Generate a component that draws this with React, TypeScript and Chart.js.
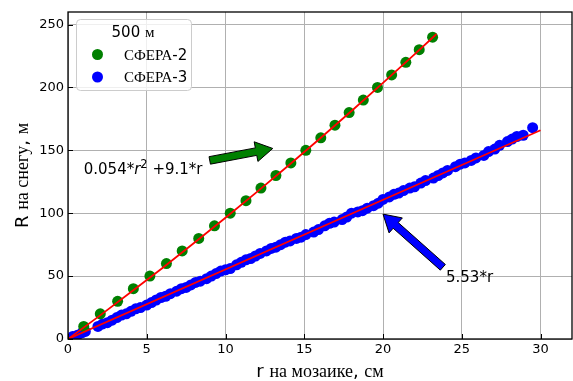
import React, { useEffect, useRef } from "react";
import { Chart, registerables } from "chart.js";

Chart.register(...registerables);

// ---------- data ----------
const sfera2X = [1.0, 2.05, 3.15, 4.15, 5.2, 6.25, 7.25, 8.3, 9.3, 10.3, 11.3, 12.25, 13.2, 14.15, 15.1, 16.05, 16.95, 17.85, 18.75, 19.65, 20.55, 21.45, 22.3, 23.15];
const sfera2Y = [10, 20, 30, 40, 50, 60, 70, 80, 90, 100, 110, 120, 130, 140, 150, 160, 170, 180, 190, 200, 210, 220, 230, 240];

const sfera3X = [0.3, 0.6, 0.9, 1.1, 1.9, 2.2, 2.5, 2.8, 3.1, 3.4, 3.7, 4.0, 4.3, 4.6, 5.0, 5.3, 5.6, 5.9, 6.2, 6.5, 6.9, 7.2, 7.5, 7.8, 8.1, 8.4, 8.8, 9.1, 9.4, 9.7, 10.0, 10.3, 10.7, 11.0, 11.3, 11.6, 11.9, 12.2, 12.6, 12.9, 13.2, 13.5, 13.8, 14.1, 14.5, 14.8, 15.1, 15.6, 15.9, 16.3, 16.6, 16.9, 17.4, 17.7, 18.0, 18.4, 18.7, 19.0, 19.4, 19.7, 20.0, 20.4, 20.7, 21.0, 21.3, 21.7, 22.0, 22.4, 22.7, 23.2, 23.5, 23.8, 24.1, 24.6, 24.9, 25.2, 25.6, 25.9, 26.4, 26.7, 27.1, 27.4, 27.9, 28.2, 28.5, 28.9, 29.5];
const sfera3Y = [2, 3, 5, 6, 10, 12, 13, 15, 17, 19, 20, 22, 24, 25, 27, 29, 31, 33, 34, 36, 38, 40, 41, 43, 45, 46, 48, 50, 52, 54, 55, 56, 59, 61, 63, 64, 66, 68, 70, 72, 73, 75, 77, 78, 80, 81, 83, 85, 87, 90, 92, 93, 95, 97, 100, 101, 102, 104, 106, 108, 111, 113, 115, 116, 118, 120, 121, 124, 126, 128, 130, 132, 134, 137, 139, 140, 142, 144, 146, 149, 151, 154, 157, 159, 161, 162, 168];

const fitQuadX = [0, 2, 4, 6, 8, 10, 12, 14, 16, 18, 20, 22, 23.4];
const fitQuadY = [0, 18.4, 37.3, 56.5, 76.3, 96.4, 117.0, 138.0, 159.4, 181.3, 203.6, 226.3, 242.5];
const fitLinX = [0, 30];
const fitLinY = [0, 166];

const xTicks = [0, 5, 10, 15, 20, 25, 30];
const yTicks = [0, 50, 100, 150, 200, 250];

const legendTitle = "500 м";
const seriesNames = ["СФЕРА-2", "СФЕРА-3"];
const seriesColors = ["#008000", "#0000ff"];
const xTitle = "r на мозаике, см";
const yTitle = "R на снегу, м";

// annotations in data units
const quadLabelPos = [1.0, 131];
const quadArrow = { from: [9.0, 142], to: [13.0, 151.5], color: "#008000" };
const linLabel = "5.53*r";
const linLabelPos = [24.0, 45.5];
const linArrow = { from: [23.8, 57], to: [20.0, 99.3], color: "#0000ff" };

const SANS = '"DejaVu Sans"';
const SERIF = '"Liberation Serif"';

type Run = { t: string; font: string; dy?: number };

function splitRuns(text: string, size: number): Run[] {
  const runs: Run[] = [];
  const isCyr = (c: string) => /[\u0400-\u04FF]/.test(c);
  let cur = "";
  let curCyr: boolean | null = null;
  for (const c of text) {
    const cy = c === " " && curCyr !== null ? curCyr : isCyr(c);
    if (curCyr === null || cy === curCyr) {
      cur += c;
      curCyr = cy;
    } else {
      runs.push({ t: cur, font: `${size}px ${curCyr ? SERIF : SANS}` });
      cur = c;
      curCyr = cy;
    }
  }
  if (cur) runs.push({ t: cur, font: `${size}px ${curCyr ? SERIF : SANS}` });
  return runs;
}

function runsWidth(ctx: CanvasRenderingContext2D, runs: Run[]) {
  let w = 0;
  for (const r of runs) {
    ctx.font = r.font;
    w += ctx.measureText(r.t).width;
  }
  return w;
}

function drawRuns(ctx: CanvasRenderingContext2D, runs: Run[], x: number, y: number, align: "left" | "center" = "left") {
  const w = runsWidth(ctx, runs);
  let cx = align === "center" ? x - w / 2 : x;
  ctx.textAlign = "left";
  ctx.textBaseline = "alphabetic";
  for (const r of runs) {
    ctx.font = r.font;
    ctx.fillText(r.t, cx, y + (r.dy || 0));
    cx += ctx.measureText(r.t).width;
  }
}

function drawArrow(ctx: CanvasRenderingContext2D, x1: number, y1: number, x2: number, y2: number, fill: string) {
  const dx = x2 - x1, dy = y2 - y1;
  const L = Math.hypot(dx, dy);
  const ux = dx / L, uy = dy / L;
  const nx = -uy, ny = ux;
  const sw = 3.8, hw = 10, hl = 17;
  const bx = x2 - ux * hl, by = y2 - uy * hl;
  ctx.beginPath();
  ctx.moveTo(x1 + nx * sw, y1 + ny * sw);
  ctx.lineTo(bx + nx * sw, by + ny * sw);
  ctx.lineTo(bx + nx * hw, by + ny * hw);
  ctx.lineTo(x2, y2);
  ctx.lineTo(bx - nx * hw, by - ny * hw);
  ctx.lineTo(bx - nx * sw, by - ny * sw);
  ctx.lineTo(x1 - nx * sw, y1 - ny * sw);
  ctx.closePath();
  ctx.fillStyle = fill;
  ctx.fill();
  ctx.strokeStyle = "#000";
  ctx.lineWidth = 1;
  ctx.stroke();
}

const overlayPlugin = {
  id: "overlay",
  afterDatasetsDraw(chart: any) {
    const ctx: CanvasRenderingContext2D = chart.ctx;
    const xs = chart.scales.x, ys = chart.scales.y;
    const ca = chart.chartArea;
    ctx.save();
    ctx.fillStyle = "#000";

    // annotations
    const a1 = quadArrow;
    drawArrow(ctx, xs.getPixelForValue(a1.from[0]), ys.getPixelForValue(a1.from[1]), xs.getPixelForValue(a1.to[0]), ys.getPixelForValue(a1.to[1]), a1.color);
    const a2 = linArrow;
    drawArrow(ctx, xs.getPixelForValue(a2.from[0]), ys.getPixelForValue(a2.from[1]), xs.getPixelForValue(a2.to[0]), ys.getPixelForValue(a2.to[1]), a2.color);

    ctx.fillStyle = "#000";
    const qRuns: Run[] = [
      { t: "0.054*", font: `15px ${SANS}` },
      { t: "r", font: `italic 15px ${SANS}` },
      { t: "2", font: `11.5px ${SANS}`, dy: -6 },
      { t: " +9.1*r", font: `15px ${SANS}` },
    ];
    drawRuns(ctx, qRuns, xs.getPixelForValue(quadLabelPos[0]), ys.getPixelForValue(quadLabelPos[1]));
    drawRuns(ctx, [{ t: linLabel, font: `15px ${SANS}` }], xs.getPixelForValue(linLabelPos[0]), ys.getPixelForValue(linLabelPos[1]));

    // legend
    const lx = ca.left + 8.5, ly = ca.top + 7.5, lw = 115, lh = 71;
    ctx.beginPath();
    (ctx as any).roundRect(lx, ly, lw, lh, 4);
    ctx.fillStyle = "rgba(255,255,255,0.8)";
    ctx.fill();
    ctx.strokeStyle = "#cccccc";
    ctx.lineWidth = 1;
    ctx.stroke();
    ctx.fillStyle = "#000";
    drawRuns(ctx, splitRuns(legendTitle, 15), lx + lw / 2 - 1, ly + 17.5, "center");
    for (let i = 0; i < seriesNames.length; i++) {
      const cy = ly + 35 + i * 22.5;
      ctx.beginPath();
      ctx.arc(lx + 21, cy, 5.5, 0, Math.PI * 2);
      ctx.fillStyle = seriesColors[i];
      ctx.fill();
      ctx.fillStyle = "#000";
      drawRuns(ctx, splitRuns(seriesNames[i], 15), lx + 47.5, cy + 5);
    }

    // inward ticks
    ctx.strokeStyle = "#000";
    ctx.lineWidth = 1;
    for (const v of xTicks) {
      const px = Math.round(xs.getPixelForValue(v)) + 0.5;
      ctx.beginPath();
      ctx.moveTo(px, ca.bottom);
      ctx.lineTo(px, ca.bottom - 5);
      ctx.stroke();
    }
    for (const v of yTicks) {
      const py = Math.round(ys.getPixelForValue(v)) + 0.5;
      ctx.beginPath();
      ctx.moveTo(ca.left, py);
      ctx.lineTo(ca.left + 5, py);
      ctx.stroke();
    }

    // frame
    ctx.lineWidth = 1.3;
    ctx.strokeRect(ca.left, ca.top, ca.right - ca.left, ca.bottom - ca.top);

    // axis titles
    ctx.fillStyle = "#000";
    drawRuns(ctx, splitRuns(xTitle, 18), (ca.left + ca.right) / 2, 377, "center");
    ctx.save();
    ctx.translate(28, (ca.top + ca.bottom) / 2);
    ctx.rotate(-Math.PI / 2);
    drawRuns(ctx, splitRuns(yTitle, 18), 0, 0, "center");
    ctx.restore();

    ctx.restore();
  },
};

export default function App() {
  const ref = useRef<HTMLCanvasElement | null>(null);

  useEffect(() => {
    if (!ref.current) return;
    const toPts = (xs: number[], ys: number[]) => xs.map((x, i) => ({ x, y: ys[i] }));
    const chart = new Chart(ref.current, {
      type: "scatter",
      data: {
        datasets: [
          {
            label: "fit2",
            data: toPts(fitQuadX, fitQuadY),
            showLine: true,
            borderColor: "#ff0000",
            borderWidth: 1.8,
            pointRadius: 0,
            order: 0,
          } as any,
          {
            label: "fit3",
            data: toPts(fitLinX, fitLinY),
            showLine: true,
            borderColor: "#ff0000",
            borderWidth: 1.8,
            pointRadius: 0,
            order: 0,
          } as any,
          {
            label: seriesNames[0],
            data: toPts(sfera2X, sfera2Y),
            backgroundColor: seriesColors[0],
            borderWidth: 0,
            pointRadius: 5.5,
            order: 1,
          },
          {
            label: seriesNames[1],
            data: toPts(sfera3X, sfera3Y),
            backgroundColor: seriesColors[1],
            borderWidth: 0,
            pointRadius: 5.5,
            order: 1,
          },
        ],
      },
      options: {
        responsive: false,
        animation: false,
        layout: { autoPadding: false, padding: { top: 12, right: 1, left: 0, bottom: 0 } },
        plugins: { legend: { display: false }, tooltip: { enabled: false } },
        scales: {
          x: {
            type: "linear",
            min: 0,
            max: 32,
            afterFit: (s: any) => { s.height = 42; s.paddingLeft = 0; s.paddingRight = 0; },
            afterBuildTicks: (s: any) => { s.ticks = xTicks.map((v) => ({ value: v })); },
            ticks: { font: { family: "DejaVu Sans", size: 13 }, color: "#000", padding: 3, maxRotation: 0, autoSkip: false },
            grid: { color: "#b0b0b0", lineWidth: 1, drawTicks: false },
            border: { display: false },
          },
          y: {
            type: "linear",
            min: 0,
            max: 260,
            afterFit: (s: any) => { s.width = 68; s.paddingTop = 0; s.paddingBottom = 0; },
            afterBuildTicks: (s: any) => { s.ticks = yTicks.map((v) => ({ value: v })); },
            ticks: { font: { family: "DejaVu Sans", size: 13 }, color: "#000", padding: 4, autoSkip: false },
            grid: { color: "#b0b0b0", lineWidth: 1, drawTicks: false },
            border: { display: false },
          },
        },
      },
      plugins: [overlayPlugin],
    });
    return () => chart.destroy();
  }, []);

  return (
    <div style={{ position: "absolute", left: 0, top: 0, width: 573, height: 381, background: "#fff" }}>
      <canvas ref={ref} width={573} height={381} style={{ display: "block", width: 573, height: 381 }} />
    </div>
  );
}
